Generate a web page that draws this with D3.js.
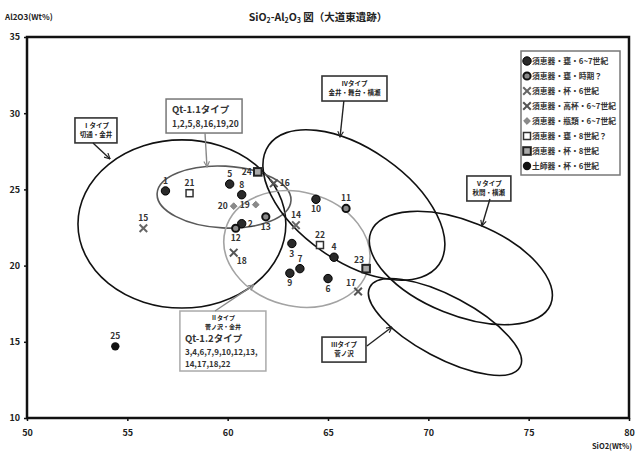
<!DOCTYPE html>
<html>
<head>
<meta charset="utf-8">
<script src="https://cdn.jsdelivr.net/npm/d3@7/dist/d3.min.js"></script>
<style>
	body {margin: 0; background: #fff;}
	svg {font-family: "Noto Sans CJK JP", "Noto Sans", sans-serif;}
</style>
</head>
<body>
<svg id="chart" width="636" height="452"></svg>
<script>
(function(){
	'use strict';

	var legendLabels = [
		'須恵器・甕・6~7世紀',
		'須恵器・甕・時期？',
		'須恵器・杯・6世紀',
		'須恵器・高杯・6~7世紀',
		'須恵器・瓶類・6~7世紀',
		'須恵器・甕・8世紀？',
		'須恵器・杯・8世紀',
		'土師器・杯・6世紀'];

	var sampleIds = [1, 2, 3, 4, 5, 6, 7, 8, 9, 10, 11, 12, 13, 14, 15, 16, 17, 18, 19, 20, 21, 22, 23, 24, 25];
	var sio2  = [56.9, 60.7, 63.2, 65.3, 60.1, 65.0, 63.6, 60.7, 63.1, 64.4, 65.9, 60.4, 61.9, 63.4, 55.8, 62.3, 66.5, 60.3, 61.4, 60.3, 58.1, 64.6, 66.9, 61.5, 54.4];
	var al2o3 = [24.9, 22.75, 21.45, 20.55, 25.35, 19.15, 19.8, 24.65, 19.5, 24.35, 23.75, 22.45, 23.2, 22.65, 22.45, 25.4, 18.3, 20.85, 24.0, 23.9, 24.75, 21.35, 19.8, 26.15, 14.7];
	var kinds = [0, 0, 0, 0, 0, 0, 0, 0, 0, 0, 1, 1, 1, 2, 2, 3, 3, 3, 4, 4, 5, 5, 6, 6, 7];
	var labelSide = ['t', 'r', 'b', 't', 't', 'b', 't', 't', 'b', 'b', 't', 'b', 'b', 't', 't', 'r', 'tl', 'br', 'l', 'l', 't', 't', 'tl', 'l', 't'];

	var xTicks = [50, 55, 60, 65, 70, 75, 80];
	var yTicks = [10, 15, 20, 25, 30, 35];

	// ellipses: centre in data units, half axes in SiO2 units, tilt in degrees
	var groupNames = ['I', 'Qt-1.1', 'II', 'IV', 'V', 'III'];
	var groupCx    = [57.72, 59.82, 63.45, 66.29, 71.62, 70.83];
	var groupCy    = [22.73, 24.50, 21.09, 23.98, 19.84, 15.97];
	var groupA     = [5.18, 3.34, 3.69, 5.18, 4.83, 4.24];
	var groupB     = [4.19, 1.54, 2.84, 2.79, 2.34, 1.54];
	var groupTilt  = [0, 3, 15, 35, 22, 28];
	var groupColor = ['#111', '#5a5a5a', '#a3a3a3', '#111', '#111', '#111'];

	// callouts
	var noteLines = [
		['Ⅰタイプ', '切通・金井'],
		['Qt-1.1タイプ', '1,2,5,8,16,19,20'],
		['Ⅳタイプ', '金井・舞台・横瀬'],
		['Ⅴタイプ', '秋間・横瀬'],
		['Ⅲタイプ', '菅ノ沢'],
		['Ⅱタイプ', '菅ノ沢・金井', 'Qt-1.2タイプ', '3,4,6,7,9,10,12,13,', '14,17,18,22']];
	var noteX    = [52.39, 56.93, 64.70, 71.92, 64.70, 57.62];
	var noteY    = [29.69, 30.93, 32.44, 25.88, 15.31, 17.02];
	var noteFromX = [53.29, 58.87, 65.79, 73.07, 66.94, 59.37];
	var noteFromY = [28.04, 28.70, 30.80, 24.37, 14.72, 17.02];
	var noteToX   = [54.14, 58.97, 65.60, 72.67, 68.19, 61.31];
	var noteToY   = [27.00, 26.47, 28.44, 22.60, 15.97, 18.73];

	var W = 636, H = 452;
	var margin = {left: 27, right: 7, top: 37, bottom: 34};

	var svg = d3.select('#chart');

	var x = d3.scaleLinear().domain([50, 80]).range([margin.left, W - margin.right]);
	var y = d3.scaleLinear().domain([10, 35]).range([H - margin.bottom, margin.top]);
	var unit = x(51) - x(50);

	var defs = svg.append('defs');
	function arrowHead(id, color) {
		defs.append('marker')
			.attr('id', id)
			.attr('viewBox', '0 0 10 10')
			.attr('refX', 9).attr('refY', 5)
			.attr('markerWidth', 7).attr('markerHeight', 7)
			.attr('markerUnits', 'userSpaceOnUse')
			.attr('orient', 'auto')
			.append('path')
			.attr('d', 'M1,1L9,5L1,9')
			.attr('fill', 'none')
			.attr('stroke', color)
			.attr('stroke-width', 1.6);}
	arrowHead('arrow-dark', '#222');
	arrowHead('arrow-gray', '#888');

	// titles
	var title = svg.append('text')
		.attr('x', 318).attr('y', 21)
		.attr('text-anchor', 'middle')
		.attr('font-size', 10.5)
		.attr('font-weight', 'bold')
		.attr('fill', '#222');
	title.append('tspan').text('SiO');
	title.append('tspan').attr('font-size', 7).attr('dy', 2).text('2');
	title.append('tspan').attr('dy', -2).text('-Al');
	title.append('tspan').attr('font-size', 7).attr('dy', 2).text('2');
	title.append('tspan').attr('dy', -2).text('O');
	title.append('tspan').attr('font-size', 7).attr('dy', 2).text('3');
	title.append('tspan').attr('dy', -2).text(' 図（大道東遺跡）');

	svg.append('text')
		.attr('x', 5).attr('y', 20)
		.attr('font-size', 8).attr('font-weight', 'bold').attr('fill', '#222')
		.text('Al2O3(Wt%)');

	svg.append('text')
		.attr('x', 632).attr('y', 449)
		.attr('text-anchor', 'end')
		.attr('font-size', 7.5).attr('font-weight', 'bold').attr('fill', '#222')
		.text('SiO2(Wt%)');

	// axes
	var xAxis = svg.append('g')
		.attr('transform', 'translate(0,' + y(10) + ')')
		.call(d3.axisBottom(x).tickValues(xTicks).tickSize(3).tickPadding(9));
	var yAxis = svg.append('g')
		.attr('transform', 'translate(' + x(50) + ',0)')
		.call(d3.axisLeft(y).tickValues(yTicks).tickSize(3).tickPadding(4));
	[xAxis, yAxis].forEach(function(axis) {
		axis.select('.domain').remove();
		axis.selectAll('line').attr('stroke', '#111').attr('stroke-width', 1.5);
		axis.selectAll('text')
			.attr('font-family', '"Noto Sans CJK JP", "Noto Sans", sans-serif')
			.attr('font-size', 9)
			.attr('font-weight', 'bold')
			.attr('fill', '#222');});

	svg.append('rect')
		.attr('x', x(50)).attr('y', y(35))
		.attr('width', x(80) - x(50)).attr('height', y(10) - y(35))
		.attr('fill', 'none')
		.attr('stroke', '#111')
		.attr('stroke-width', 2.5);

	// group ellipses
	groupNames.forEach(function(name, i) {
		svg.append('ellipse')
			.attr('class', 'group')
			.attr('transform', 'translate(' + x(groupCx[i]) + ',' + y(groupCy[i]) + ') rotate(' + groupTilt[i] + ')')
			.attr('rx', groupA[i] * unit)
			.attr('ry', groupB[i] * unit)
			.attr('fill', 'none')
			.attr('stroke', groupColor[i])
			.attr('stroke-width', 1.6);});

	// callouts
	noteLines.forEach(function(lines, i) {
		var gray = (1 === i || 5 === i);
		var color = gray ? '#888' : '#222';
		var g = svg.append('g').attr('class', 'note');
		var bx = x(noteX[i]), by = y(noteY[i]);
		var t, w, h;

		svg.append('line')
			.attr('x1', x(noteFromX[i])).attr('y1', y(noteFromY[i]))
			.attr('x2', x(noteToX[i])).attr('y2', y(noteToY[i]))
			.attr('stroke', color)
			.attr('stroke-width', 1.4)
			.attr('marker-end', gray ? 'url(#arrow-gray)' : 'url(#arrow-dark)');

		if (1 === i) {
			w = 76; h = 34;
			g.append('rect').attr('x', bx).attr('y', by).attr('width', w).attr('height', h)
				.attr('fill', '#fff').attr('stroke', '#777').attr('stroke-width', 1.5);
			g.append('text').attr('x', bx + 6).attr('y', by + 14)
				.attr('font-size', 9.5).attr('font-weight', 'bold').attr('fill', '#333').text(lines[0]);
			g.append('text').attr('x', bx + 6).attr('y', by + 28)
				.attr('font-size', 8.5).attr('font-weight', 'bold').attr('fill', '#333').text(lines[1]);}
		else if (5 === i) {
			w = 86; h = 60;
			g.append('rect').attr('x', bx).attr('y', by).attr('width', w).attr('height', h)
				.attr('fill', '#fff').attr('stroke', '#aaa').attr('stroke-width', 1.5);
			g.append('text').attr('x', bx + w / 2).attr('y', by + 9)
				.attr('text-anchor', 'middle').attr('font-size', 6).attr('font-weight', 'bold')
				.attr('fill', '#222').text(lines[0]);
			g.append('text').attr('x', bx + w / 2).attr('y', by + 18)
				.attr('text-anchor', 'middle').attr('font-size', 6).attr('font-weight', 'bold')
				.attr('fill', '#222').text(lines[1]);
			g.append('text').attr('x', bx + 5).attr('y', by + 31)
				.attr('font-size', 9.5).attr('font-weight', 'bold').attr('fill', '#333').text(lines[2]);
			g.append('text').attr('x', bx + 5).attr('y', by + 44)
				.attr('font-size', 8).attr('font-weight', 'bold').attr('fill', '#333').text(lines[3]);
			g.append('text').attr('x', bx + 5).attr('y', by + 56)
				.attr('font-size', 8).attr('font-weight', 'bold').attr('fill', '#333').text(lines[4]);}
		else {
			t = g.append('text').attr('font-size', 6.5).attr('font-weight', 'bold').attr('fill', '#222');
			w = (2 === i) ? 65 : (0 === i ? 42 : 44);
			h = 25;
			g.insert('rect', 'text').attr('x', bx).attr('y', by).attr('width', w).attr('height', h)
				.attr('fill', '#fff').attr('stroke', '#333').attr('stroke-width', 1.6);
			lines.forEach(function(line, j) {
				t.append('tspan')
					.attr('x', bx + w / 2).attr('y', by + 10 + j * 9)
					.attr('text-anchor', 'middle')
					.text(line);});}});

	// sample markers
	function drawMarker(sel, kind, cx, cy) {
		var s;
		if (0 === kind) {
			sel.append('circle').attr('cx', cx).attr('cy', cy).attr('r', 4.2)
				.attr('fill', '#2a2a2a').attr('stroke', '#000').attr('stroke-width', 1);}
		else if (1 === kind) {
			sel.append('circle').attr('cx', cx).attr('cy', cy).attr('r', 3.6)
				.attr('fill', '#8a8a8a').attr('stroke', '#111').attr('stroke-width', 2);}
		else if (2 === kind || 3 === kind) {
			s = 3.8;
			sel.append('path')
				.attr('d', 'M' + (cx - s) + ',' + (cy - s) + 'L' + (cx + s) + ',' + (cy + s) +
					'M' + (cx - s) + ',' + (cy + s) + 'L' + (cx + s) + ',' + (cy - s))
				.attr('stroke', 2 === kind ? '#666' : '#555')
				.attr('stroke-width', 2);}
		else if (4 === kind) {
			s = 3.4;
			sel.append('path')
				.attr('d', 'M' + cx + ',' + (cy - s) + 'L' + (cx + s) + ',' + cy + 'L' + cx + ',' + (cy + s) + 'L' + (cx - s) + ',' + cy + 'Z')
				.attr('fill', '#8a8a8a').attr('stroke', '#777').attr('stroke-width', 0.8);}
		else if (5 === kind) {
			sel.append('rect').attr('x', cx - 3.5).attr('y', cy - 3.5).attr('width', 7).attr('height', 7)
				.attr('fill', '#fff').attr('stroke', '#333').attr('stroke-width', 1.5);}
		else if (6 === kind) {
			sel.append('rect').attr('x', cx - 3.8).attr('y', cy - 3.8).attr('width', 7.6).attr('height', 7.6)
				.attr('fill', '#aaa').attr('stroke', '#222').attr('stroke-width', 2);}
		else {
			sel.append('circle').attr('cx', cx).attr('cy', cy).attr('r', 4.2)
				.attr('fill', '#111');}}

	var pointLayer = svg.append('g').attr('class', 'points');
	sampleIds.forEach(function(id, i) {
		var px = x(sio2[i]), py = y(al2o3[i]);
		var side = labelSide[i];
		var dx = 0, dy = -7, anchor = 'middle';
		drawMarker(pointLayer, kinds[i], px, py);

		if ('b' === side) {dy = 13;}
		else if ('l' === side) {dx = -6; dy = 3; anchor = 'end';}
		else if ('r' === side) {dx = 6; dy = 3; anchor = 'start';}
		else if ('tl' === side) {dx = -2; dy = -6; anchor = 'end';}
		else if ('br' === side) {dx = 3; dy = 11; anchor = 'start';}

		pointLayer.append('text')
			.attr('x', px + dx).attr('y', py + dy)
			.attr('text-anchor', anchor)
			.attr('font-size', 8.5)
			.attr('font-weight', 'bold')
			.attr('fill', '#333')
			.text(id);});

	// legend
	var legend = svg.append('g').attr('class', 'legend');
	legend.append('rect')
		.attr('x', 521).attr('y', 51).attr('width', 99).attr('height', 124)
		.attr('fill', '#fff').attr('stroke', '#777').attr('stroke-width', 1.5);
	legendLabels.forEach(function(label, i) {
		var ly = 61 + i * 15;
		drawMarker(legend, i, 527, ly);
		legend.append('text')
			.attr('x', 532).attr('y', ly + 3)
			.attr('font-size', 7.8)
			.attr('font-weight', 'bold')
			.attr('fill', '#333')
			.text(label);});

})();
</script>
</body>
</html>
